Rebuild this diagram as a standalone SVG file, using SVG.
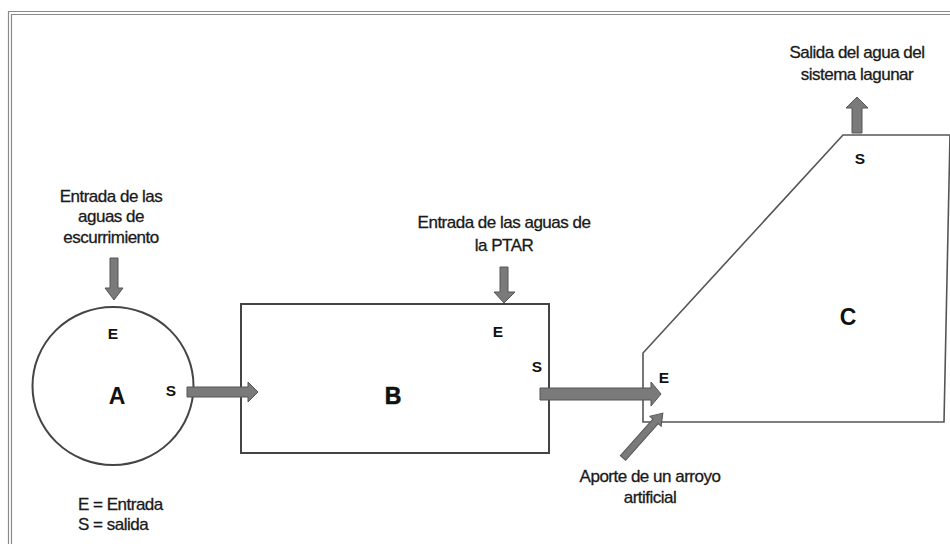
<svg xmlns="http://www.w3.org/2000/svg" width="950" height="544" viewBox="0 0 950 544">
<style>
.lbl{font-family:"Liberation Sans",Arial,sans-serif;font-size:17px;letter-spacing:-0.5px;fill:#1a1a1a;stroke:#1a1a1a;stroke-width:0.3;text-anchor:middle}
.leg{font-family:"Liberation Sans",Arial,sans-serif;font-size:17px;letter-spacing:-0.5px;fill:#1a1a1a;stroke:#1a1a1a;stroke-width:0.3}
.io{font-family:"Liberation Sans",Arial,sans-serif;font-size:15.5px;font-weight:bold;fill:#111;text-anchor:middle}
.big{font-family:"Liberation Sans",Arial,sans-serif;font-size:23px;font-weight:bold;fill:#111;text-anchor:middle}
.shape{fill:#fff;stroke:#444;stroke-width:2}
.arrow{fill:#7a7a7a;stroke:#555;stroke-width:1}
.frame{fill:none;stroke:#8a8a8a;stroke-width:1.2}
</style>
<rect width="950" height="544" fill="#fff"/>
<g id="frame">
<path class="frame" d="M8.5,544 V11.5 H950"/>
<path class="frame" d="M11.5,544 V14.5 H950"/>
</g>
<g id="node-A">
<ellipse class="shape" cx="113" cy="386" rx="80.5" ry="79"/>
<text class="io" x="113" y="339">E</text>
<text class="big" x="117" y="404">A</text>
<text class="io" x="171" y="396">S</text>
<text class="lbl" x="111" y="202">Entrada de las</text>
<text class="lbl" x="111" y="222">aguas de</text>
<text class="lbl" x="111" y="243">escurrimiento</text>
</g>
<g id="node-B">
<rect class="shape" x="241" y="304" width="308" height="149"/>
<text class="big" x="393" y="404" font-weight="normal" stroke="#111" stroke-width="0.6">B</text>
<text class="io" x="498" y="337">E</text>
<text class="io" x="537" y="372">S</text>
<text class="lbl" x="504" y="228">Entrada de las aguas de</text>
<text class="lbl" x="504" y="251">la PTAR</text>
</g>
<g id="node-C">
<path d="M643,422 V353 L843,135 H950 L944,422 Z" fill="#fff" stroke="#555" stroke-width="1.6"/>
<text class="big" x="848" y="325">C</text>
<text class="io" x="664" y="383">E</text>
<text class="io" x="860" y="164">S</text>
<text class="lbl" x="857" y="58">Salida del agua del</text>
<text class="lbl" x="857" y="80">sistema lagunar</text>
</g>
<g id="legend">
<text class="leg" x="78" y="510">E = Entrada</text>
<text class="leg" x="78" y="530">S = salida</text>
</g>
<g id="aporte">
<text class="lbl" x="650" y="482">Aporte de un arroyo</text>
<text class="lbl" x="650" y="503">artificial</text>
</g>
<g id="connectors">
<path class="arrow" d="M110,258 H118 V288 H123 L114,300 L105,288 H110 Z"/>
<path class="arrow" d="M187,387 H248 V382 L258,392 L248,402 V397 H187 Z"/>
<path class="arrow" d="M500,267 H508 V292 H515 L504,303 L494,292 H500 Z"/>
<path class="arrow" d="M540,388 H651 V382 L661,394 L651,406 V400 H540 Z"/>
<path class="arrow" d="M852,133 V108 H846 L857,97 L868,108 H862 V133 Z"/>
<path class="arrow" transform="translate(623,458) rotate(-48.4)" d="M0,-3.5 H49 V-7.5 L60,0 L49,7.5 V3.5 H0 Z"/>
</g>
</svg>
